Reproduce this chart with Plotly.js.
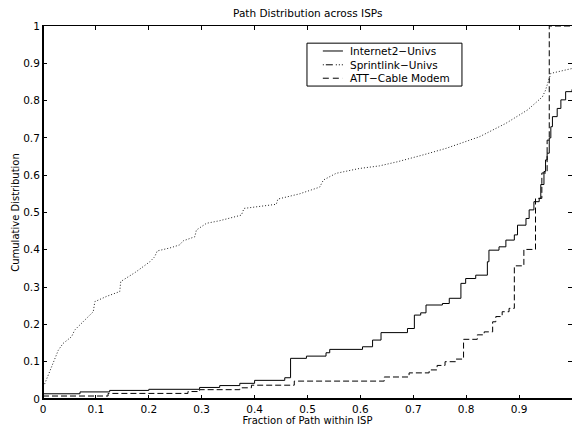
<!DOCTYPE html>
<html>
<head>
<meta charset="utf-8">
<script src="https://cdn.plot.ly/plotly-3.0.1.min.js"></script>
<style>
html,body{margin:0;padding:0;background:#fff;}
#chart{width:572px;height:428px;}
</style>
</head>
<body>
<div id="chart"></div>
<script>
// Internet2-Univs (solid, step CDF)
const internet2X = [0, 0.070, 0.126, 0.200, 0.296, 0.334, 0.372, 0.400, 0.457, 0.468, 0.498, 0.535, 0.542, 0.604, 0.623, 0.639, 0.689, 0.702, 0.714, 0.724, 0.755, 0.768, 0.790, 0.799, 0.818, 0.840, 0.843, 0.862, 0.875, 0.891, 0.897, 0.913, 0.919, 0.928, 0.938, 0.941, 0.947, 0.950, 0.953, 0.957, 0.960, 0.963, 0.972, 0.979, 0.988, 1.000];
const internet2Y = [0.014, 0.019, 0.023, 0.026, 0.031, 0.036, 0.042, 0.050, 0.057, 0.109, 0.115, 0.124, 0.133, 0.140, 0.158, 0.178, 0.189, 0.225, 0.231, 0.252, 0.256, 0.270, 0.310, 0.323, 0.332, 0.368, 0.399, 0.408, 0.426, 0.440, 0.466, 0.484, 0.507, 0.529, 0.538, 0.575, 0.610, 0.641, 0.659, 0.700, 0.730, 0.757, 0.779, 0.802, 0.824, 0.830];

// Sprintlink-Univs (dash-dot)
const sprintX = [0.003, 0.012, 0.025, 0.029, 0.038, 0.054, 0.060, 0.073, 0.089, 0.095, 0.098, 0.120, 0.145, 0.147, 0.175, 0.202, 0.211, 0.216, 0.240, 0.258, 0.265, 0.287, 0.290, 0.309, 0.334, 0.375, 0.380, 0.441, 0.444, 0.485, 0.523, 0.530, 0.554, 0.598, 0.636, 0.670, 0.720, 0.762, 0.825, 0.875, 0.916, 0.944, 0.950, 0.955, 0.960, 1.000];
const sprintY = [0.040, 0.073, 0.118, 0.131, 0.149, 0.167, 0.185, 0.203, 0.225, 0.234, 0.261, 0.275, 0.288, 0.315, 0.340, 0.368, 0.381, 0.397, 0.405, 0.413, 0.424, 0.435, 0.453, 0.471, 0.478, 0.493, 0.511, 0.522, 0.536, 0.550, 0.568, 0.587, 0.605, 0.618, 0.625, 0.636, 0.655, 0.672, 0.703, 0.739, 0.775, 0.810, 0.828, 0.850, 0.873, 0.886];

// ATT-Cable Modem (dashed, step CDF)
const attX = [0, 0.123, 0.274, 0.296, 0.372, 0.394, 0.475, 0.645, 0.692, 0.730, 0.745, 0.760, 0.780, 0.795, 0.821, 0.834, 0.850, 0.856, 0.868, 0.881, 0.891, 0.909, 0.931, 0.943, 0.953, 0.957, 1.000];
const attY = [0.008, 0.015, 0.020, 0.025, 0.030, 0.037, 0.048, 0.059, 0.070, 0.078, 0.090, 0.100, 0.107, 0.160, 0.172, 0.180, 0.207, 0.221, 0.234, 0.243, 0.357, 0.401, 0.538, 0.606, 0.694, 1.000, 1.000];

const seriesNames = ['Internet2\u2212Univs', 'Sprintlink\u2212Univs', 'ATT\u2212Cable Modem'];
const tickVals = [0, 0.1, 0.2, 0.3, 0.4, 0.5, 0.6, 0.7, 0.8, 0.9, 1];
const tickText = ['0', '0.1', '0.2', '0.3', '0.4', '0.5', '0.6', '0.7', '0.8', '0.9', '1'];

const FONT = 'DejaVu Sans, Verdana, sans-serif';

const lineStyles = [
  {color: '#000', width: 1, shape: 'hv'},
  {color: '#222', width: 1, dash: '1px,2px'},
  {color: '#000', width: 1, shape: 'hv', dash: '6px,3px'}
];
const legendDash = ['solid', '1px,2px,7px,3px,1px,2px,1px,2px', '6px,4px'];

const traces = [
  {x: internet2X, y: internet2Y, name: seriesNames[0], mode: 'lines', line: lineStyles[0]},
  {x: sprintX, y: sprintY, name: seriesNames[1], mode: 'lines', line: lineStyles[1]},
  {x: attX, y: attY, name: seriesNames[2], mode: 'lines', line: lineStyles[2]}
];

const axisCommon = {
  range: [0, 1], tickmode: 'array', tickvals: tickVals, ticktext: tickText,
  ticks: 'inside', ticklen: 4, tickwidth: 1, tickcolor: '#000',
  showline: true, linecolor: '#000', linewidth: 1, mirror: 'ticks',
  showgrid: false, zeroline: false,
  tickfont: {family: FONT, size: 10.5, color: '#000'}
};

// manual legend box (MATLAB style, compact rows)
const legBox = {x0: 0.499, x1: 0.792, y0: 0.839, y1: 0.954};
const legRowsY = [0.933, 0.896, 0.860];
const legLineX = [0.529, 0.567];
const legTextX = 0.577;

const shapes = [
  {type: 'line', xref: 'paper', yref: 'paper', x0: 0, x1: 1, y0: 0, y1: 0, line: {color: '#000', width: 2}},
  {type: 'line', xref: 'paper', yref: 'paper', x0: 0, x1: 0, y0: 0, y1: 1, line: {color: '#000', width: 2}},
  {type: 'rect', xref: 'paper', yref: 'paper', x0: legBox.x0, x1: legBox.x1, y0: legBox.y0, y1: legBox.y1,
   fillcolor: '#fff', line: {color: '#000', width: 1}}
];
const annotations = [];
seriesNames.forEach(function (nm, i) {
  shapes.push({type: 'line', xref: 'paper', yref: 'paper', x0: legLineX[0], x1: legLineX[1],
               y0: legRowsY[i], y1: legRowsY[i], line: {color: '#000', width: 1, dash: legendDash[i]}});
  annotations.push({xref: 'paper', yref: 'paper', x: legTextX, y: legRowsY[i], xanchor: 'left', yanchor: 'middle',
                    text: nm, showarrow: false, font: {family: FONT, size: 10.5, color: '#000'}});
});

const layout = {
  width: 572, height: 428,
  margin: {l: 43, r: 0, t: 26, b: 29},
  paper_bgcolor: '#fff', plot_bgcolor: '#fff',
  showlegend: false,
  title: {text: 'Path Distribution across ISPs', font: {family: FONT, size: 10.5, color: '#000'},
          x: 0.538, xanchor: 'center', y: 0.968, yanchor: 'middle'},
  xaxis: Object.assign({}, axisCommon, {
    title: {text: 'Fraction of Path within ISP', font: {family: FONT, size: 10, color: '#000'}, standoff: 2}
  }),
  yaxis: Object.assign({}, axisCommon, {
    title: {text: 'Cumulative Distribution', font: {family: FONT, size: 10, color: '#000'}, standoff: 1}
  }),
  shapes: shapes,
  annotations: annotations
};

Plotly.newPlot('chart', traces, layout, {displayModeBar: false, staticPlot: true});
</script>
</body>
</html>
